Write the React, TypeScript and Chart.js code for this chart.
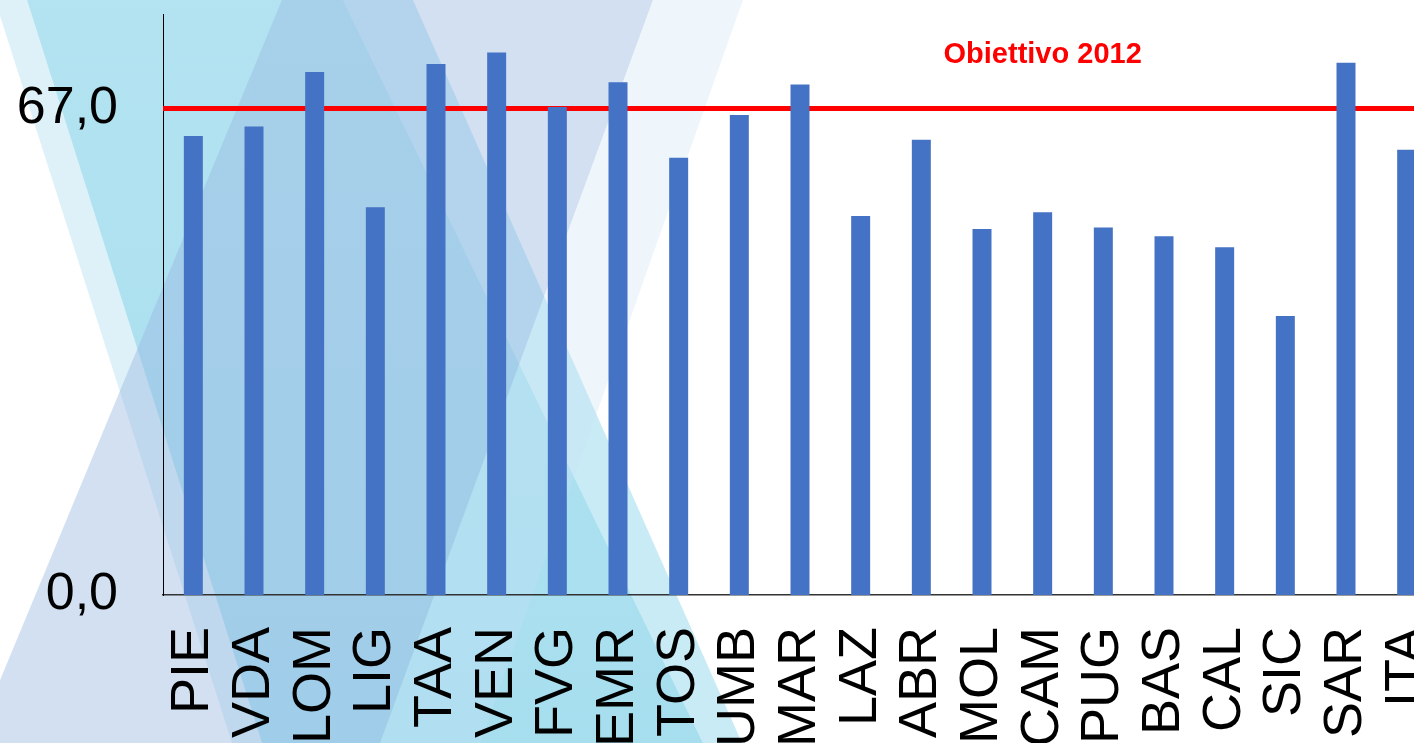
import React, { useEffect, useRef } from 'react';
import { Chart, registerables } from 'chart.js';

Chart.register(...registerables);

// ---- data ----
const REGIONS = ['PIE', 'VDA', 'LOM', 'LIG', 'TAA', 'VEN', 'FVG', 'EMR', 'TOS', 'UMB', 'MAR', 'LAZ', 'ABR', 'MOL', 'CAM', 'PUG', 'BAS', 'CAL', 'SIC', 'SAR', 'ITA'];
const VALUES = [63.2, 64.5, 72.0, 53.4, 73.1, 74.7, 67.2, 70.6, 60.2, 66.1, 70.3, 52.2, 62.7, 50.4, 52.7, 50.6, 49.4, 47.9, 38.4, 73.3, 61.3];
const Y_TICKS = [0, 67];
const Y_MAX = 80;
const TARGET = 67;
const TARGET_LABEL = 'Obiettivo 2012';
const TARGET_LABEL_AT = 'CAM';
const TARGET_LABEL_VALUE = 73.2;

const FONT = '"Liberation Sans", Arial, Helvetica, sans-serif';
const W = 1437;
const H = 800;
const AXIS_BOTTOM = 595;
const AXIS_LEFT = 163;

type Pt = [number, number];

const backdrop = {
  id: 'backdrop',
  beforeDraw(chart: any) {
    const ctx: CanvasRenderingContext2D = chart.ctx;
    ctx.save();
    ctx.fillStyle = '#ffffff';
    ctx.fillRect(0, 0, chart.width, chart.height);
    const poly = (pts: Pt[], fill: string | CanvasGradient) => {
      ctx.beginPath();
      ctx.moveTo(pts[0][0], pts[0][1]);
      for (let i = 1; i < pts.length; i++) ctx.lineTo(pts[i][0], pts[i][1]);
      ctx.closePath();
      ctx.fillStyle = fill;
      ctx.fill();
    };
    // light strip at left
    poly([[-5, 0], [27, 0], [262, 743], [232, 743]], 'rgba(200,232,243,0.6)');
    // main cyan band
    const g = ctx.createLinearGradient(0, 0, 0, 743);
    g.addColorStop(0, 'rgba(120,205,230,0.56)');
    g.addColorStop(1, 'rgba(120,205,230,0.65)');
    poly([[27, 0], [343, 0], [703, 743], [262, 743]], g);
    // lighter cyan strip
    poly([[343, 0], [413, 0], [742, 743], [703, 743]], 'rgba(120,205,230,0.4)');
    // lavender band
    poly([[282, 0], [653, 0], [380, 743], [-26, 743]], 'rgba(150,180,225,0.42)');
    // very light strip
    poly([[653, 0], [743, 0], [480, 743], [380, 743]], 'rgba(200,225,245,0.3)');
    ctx.restore();
  },
};

const target = {
  id: 'target',
  beforeDatasetsDraw(chart: any) {
    const { ctx, chartArea, scales } = chart;
    const x = scales.x;
    const y = scales.y;
    const py = y.getPixelForValue(TARGET);
    ctx.save();
    ctx.strokeStyle = '#FF0000';
    ctx.lineWidth = 5;
    ctx.beginPath();
    ctx.moveTo(chartArea.left, py);
    ctx.lineTo(chartArea.right, py);
    ctx.stroke();
    ctx.font = `bold 29px ${FONT}`;
    ctx.fillStyle = '#FF0000';
    ctx.textAlign = 'center';
    ctx.textBaseline = 'alphabetic';
    ctx.fillText(TARGET_LABEL, x.getPixelForValue(REGIONS.indexOf(TARGET_LABEL_AT)), y.getPixelForValue(TARGET_LABEL_VALUE));
    ctx.restore();
  },
};

export default function App() {
  const ref = useRef<HTMLCanvasElement | null>(null);

  useEffect(() => {
    if (!ref.current) return;
    const chart = new Chart(ref.current, {
      type: 'bar',
      data: {
        labels: REGIONS,
        datasets: [
          {
            data: VALUES,
            backgroundColor: '#4472C4',
            borderWidth: 0,
            barPercentage: 0.313,
            categoryPercentage: 1.0,
          },
        ],
      },
      options: {
        animation: false,
        responsive: false,
        devicePixelRatio: 1,
        layout: { padding: { top: 14, left: 0, right: 0, bottom: 0 } },
        plugins: { legend: { display: false }, tooltip: { enabled: false } },
        scales: {
          x: {
            grid: { display: false, drawTicks: false },
            border: { display: true, color: '#333333', width: 1.5 },
            ticks: {
              autoSkip: false,
              minRotation: 90,
              maxRotation: 90,
              padding: 32,
              color: '#000000',
              font: { family: FONT, size: 54 },
            },
            afterFit: (s: any) => {
              s.height = H - AXIS_BOTTOM;
              s.paddingLeft = 0;
              s.paddingRight = 0;
            },
          },
          y: {
            min: 0,
            max: Y_MAX,
            grid: { display: false, drawTicks: false },
            border: { display: true, color: '#000000', width: 1 },
            afterBuildTicks: (s: any) => {
              s.ticks = Y_TICKS.map((v) => ({ value: v }));
            },
            ticks: {
              padding: 45,
              color: '#000000',
              font: { family: FONT, size: 52 },
              callback: (v: any) => Number(v).toFixed(1).replace('.', ','),
            },
            afterFit: (s: any) => {
              s.width = AXIS_LEFT;
              s.paddingTop = 0;
              s.paddingBottom = 0;
            },
          },
        },
      },
      plugins: [backdrop, target],
    } as any);
    return () => chart.destroy();
  }, []);

  return (
    <div style={{ position: 'fixed', left: 0, top: 0, width: 1414, height: 743, overflow: 'hidden', background: '#fff' }}>
      <canvas ref={ref} width={W} height={H} style={{ display: 'block' }} />
    </div>
  );
}
